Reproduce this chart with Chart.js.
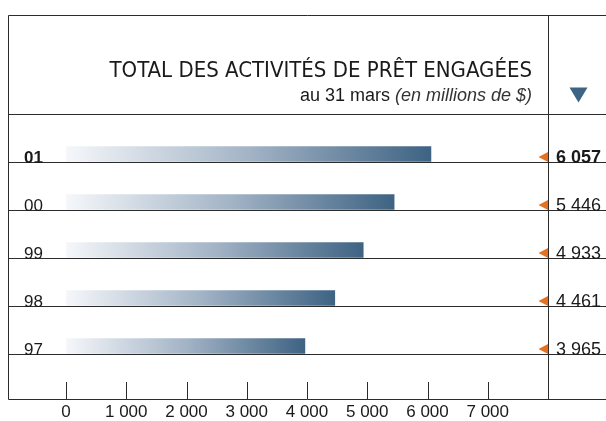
<!DOCTYPE html>
<html lang="fr">
<head>
  <meta charset="UTF-8" />
  <title>Total des activités de prêt engagées</title>
  <script src="https://cdn.jsdelivr.net/npm/chart.js"></script>
  <style>
    html, body { margin: 0; padding: 0; background: #fff; }
    #wrap { width: 606px; height: 421px; position: relative; }
  </style>
</head>
<body>
  <div id="wrap"><canvas id="chart" width="606" height="421"></canvas></div>

  <script>
    // données
    const years = ['01', '00', '99', '98', '97'];
    const loans = [6057, 5446, 4933, 4461, 3965];
    const valueLabels = ['6 057', '5 446', '4 933', '4 461', '3 965'];
    const xTicks = [0, 1000, 2000, 3000, 4000, 5000, 6000, 7000];
    const xTickLabels = ['0', '1 000', '2 000', '3 000', '4 000', '5 000', '6 000', '7 000'];
    const title = 'TOTAL DES ACTIVITÉS DE PRÊT ENGAGÉES';
    const subtitle = 'au 31 mars';
    const subtitleItalic = '(en millions de $)';

    const LINE = '#2b2b2b';
    const NARROW = '"Liberation Sans Narrow", "DejaVu Sans Condensed", sans-serif';
    const SANS = '"Liberation Sans", sans-serif';

    // dégradé propre à chaque barre
    function barGradient(ctx) {
      const el = ctx.element;
      const chart = ctx.chart;
      if (!el || !chart.chartArea) return '#4a6d8c';
      const x0 = chart.scales.x.getPixelForValue(0);
      const x1 = chart.scales.x.getPixelForValue(loans[ctx.dataIndex]);
      const g = chart.ctx.createLinearGradient(x0, 0, x1, 0);
      g.addColorStop(0, '#f5f7fa');
      g.addColorStop(0.5, '#a3b4c6');
      g.addColorStop(1, '#3e6383');
      return g;
    }

    const decorations = {
      id: 'decorations',
      afterDatasetsDraw(chart) {
        const { ctx, scales } = chart;
        const xs = scales.x, ys = scales.y;
        const W = chart.width;
        const left = 8, top = 15, bottom = 399;
        const divider = Math.round(xs.getPixelForValue(8000)) + 0.5;
        const half = 24;

        ctx.save();
        ctx.strokeStyle = LINE;
        ctx.lineWidth = 1;
        ctx.beginPath();
        // cadre
        ctx.moveTo(W, top + 0.5); ctx.lineTo(left + 0.5, top + 0.5); ctx.lineTo(left + 0.5, bottom + 0.5); ctx.lineTo(W, bottom + 0.5);
        // séparateur vertical
        ctx.moveTo(divider, top); ctx.lineTo(divider, bottom);
        // ligne sous l'en-tête
        const headY = Math.round(ys.getPixelForValue(0) - half) + 0.5 - 16;
        ctx.moveTo(left, headY); ctx.lineTo(W, headY);
        // lignes des rangées
        years.forEach((y, i) => {
          const ly = Math.round(ys.getPixelForValue(i) + 8) + 0.5;
          ctx.moveTo(left, ly); ctx.lineTo(W, ly);
        });
        // graduations
        xTicks.forEach(v => {
          const px = Math.round(xs.getPixelForValue(v)) + 0.5;
          ctx.moveTo(px, 382); ctx.lineTo(px, bottom);
        });
        ctx.stroke();

        // années et valeurs
        ctx.fillStyle = '#1a1a1a';
        ctx.textBaseline = 'alphabetic';
        years.forEach((y, i) => {
          const by = Math.round(ys.getPixelForValue(i) + 8) + 1;
          ctx.font = (i === 0 ? 'bold ' : '') + '17px ' + SANS;
          ctx.textAlign = 'left';
          ctx.fillText(y, 24, by);
          ctx.font = (i === 0 ? 'bold ' : '') + '18px ' + SANS;
          ctx.fillText(valueLabels[i], 556, by);
          // flèche orange
          const cy = ys.getPixelForValue(i) + 3;
          ctx.fillStyle = '#e8711f';
          ctx.beginPath();
          ctx.moveTo(538.5, cy); ctx.lineTo(548, cy - 5); ctx.lineTo(548, cy + 5);
          ctx.closePath(); ctx.fill();
          ctx.fillStyle = '#1a1a1a';
        });

        // titre
        ctx.textAlign = 'right';
        ctx.font = '22px ' + NARROW;
        ctx.fillText(title, 532, 77);
        ctx.font = 'italic 18px ' + SANS;
        const itW = ctx.measureText(subtitleItalic).width;
        ctx.fillStyle = '#333';
        ctx.fillText(subtitleItalic, 532, 101);
        ctx.font = '18px ' + SANS;
        ctx.fillStyle = '#1a1a1a';
        ctx.fillText(subtitle + ' ', 532 - itW, 101);

        // triangle bleu
        ctx.fillStyle = '#3d6485';
        ctx.beginPath();
        ctx.moveTo(569.5, 87.5); ctx.lineTo(587.5, 87.5); ctx.lineTo(578.5, 102.5);
        ctx.closePath(); ctx.fill();
        ctx.restore();
      }
    };

    new Chart(document.getElementById('chart'), {
      type: 'bar',
      data: {
        labels: years,
        datasets: [{
          data: loans,
          backgroundColor: barGradient,
          borderWidth: 0,
          barThickness: 15
        }]
      },
      options: {
        indexAxis: 'y',
        responsive: false,
        animation: false,
        layout: { padding: { left: 66, right: 58, top: 130, bottom: 0 } },
        plugins: { legend: { display: false }, tooltip: { enabled: false }, title: { display: false } },
        scales: {
          y: { display: false, offset: true },
          x: {
            min: 0, max: 8000,
            afterFit(s) { s.height = 51; },
            afterBuildTicks(s) { s.ticks = xTicks.map(v => ({ value: v })); },
            grid: { display: false, drawTicks: false },
            border: { display: false },
            ticks: {
              autoSkip: false,
              maxRotation: 0,
              padding: 32,
              color: '#1a1a1a',
              font: { family: SANS, size: 17 },
              callback: (v) => xTickLabels[xTicks.indexOf(v)]
            }
          }
        }
      },
      plugins: [decorations]
    });
  </script>
</body>
</html>
